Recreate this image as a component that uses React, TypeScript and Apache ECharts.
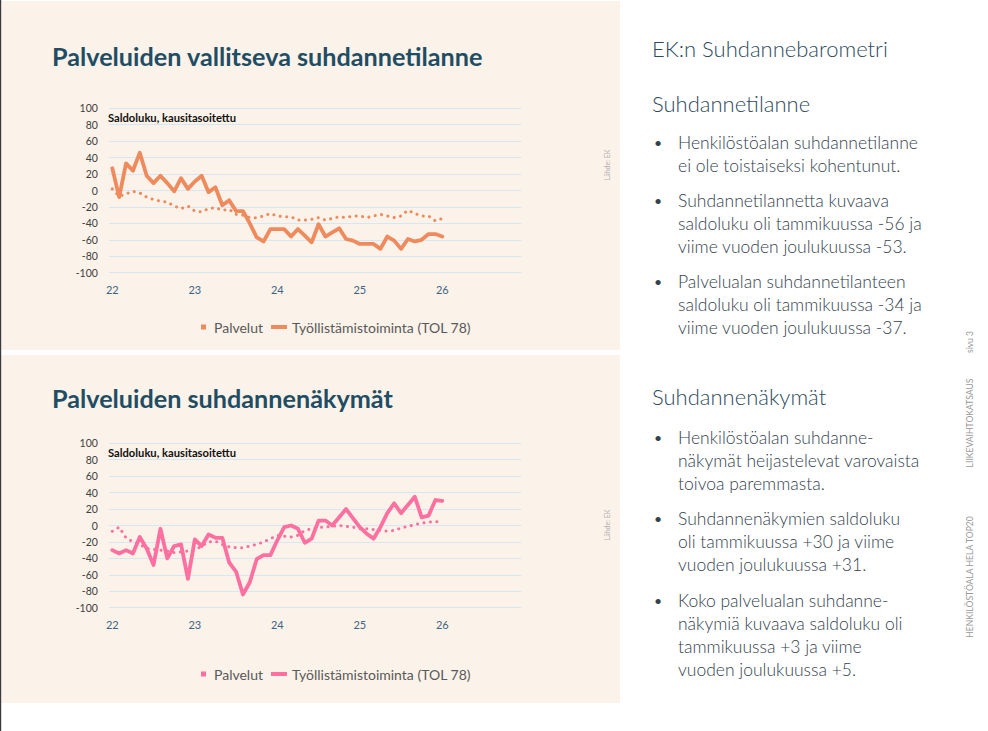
import React, { useEffect, useRef } from "react";
import * as echarts from "echarts";

// ---- data ----
const years = ["22", "23", "24", "25", "26"];
const monthsPerYear = 12;

// Palveluiden vallitseva suhdannetilanne (Jan 2022 .. Jan 2026)
const tilannePalvelut = [
  2, -7, -4, -1, -3, -8, -11, -13, -14, -19, -22, -19, -25, -26, -22, -21, -24, -23, -29, -30,
  -33, -33, -31, -28, -31, -32, -32, -36, -36, -35, -33, -36, -34, -32, -33, -31, -31, -33, -31, -29,
  -31, -33, -31, -24, -28, -31, -31, -37, -34,
];
const tilanneTyollistamis = [
  27, -8, 33, 24, 46, 18, 9, 18, 9, -1, 15, 2, 11, 18, -2, 4, -18, -12, -25, -25,
  -40, -57, -62, -47, -47, -47, -56, -47, -55, -63, -41, -56, -51, -46, -59, -61, -65, -65, -65, -71,
  -56, -61, -71, -59, -62, -60, -53, -53, -56,
];

// Palveluiden suhdannenäkymät
const nakymatPalvelut = [
  -7, -2, -15, -20, -23, -28, -29, -30, -31, -33, -32, -31, -30, -25, -20, -19, -23, -26, -27, -27,
  -25, -23, -20, -16, -12, -13, -14, -12, -6, -4, -2, -2, -1, 0, -1, -2, -4, -4, -5, -6,
  -7, -6, -3, -1, 1, 3, 4, 5, 3,
];
const nakymatTyollistamis = [
  -30, -34, -30, -34, -14, -28, -48, -4, -40, -25, -23, -65, -17, -25, -11, -15, -15, -45, -56, -84,
  -69, -41, -36, -36, -18, -2, 0, -4, -21, -16, 6, 6, 0, 10, 20, 9, -2, -10, -16, -2,
  15, 27, 15, 25, 35, 10, 12, 31, 30,
];

const seriesNames = ["Palvelut", "Työllistämistoiminta (TOL 78)"];
const yTicks = { min: -100, max: 100, step: 20 };

// 60 monthly categories, 2022..2026
const months: string[] = [];
years.forEach((y) => {
  for (let m = 1; m <= monthsPerYear; m++) months.push(`${y}-${m}`);
});

const ORANGE = "#EF8A5D";
const PINK = "#FF6F9F";
const BEIGE = "#FBF2E9";
const FONT = "Lato, 'Open Sans', sans-serif";

function text(
  t: string,
  x: number,
  y: number,
  o: { size: number; color: string; weight?: any; align?: string; va?: string; rotation?: number; lh?: number }
) {
  return {
    type: "text",
    x,
    y,
    z: 10,
    rotation: o.rotation || 0,
    silent: true,
    style: {
      text: t,
      fill: o.color,
      fontSize: o.size,
      fontFamily: FONT,
      fontWeight: o.weight || "normal",
      align: o.align || "left",
      textAlign: o.align || "left",
      verticalAlign: o.va || "middle",
      textVerticalAlign: o.va || "middle",
      lineHeight: o.lh,
    },
  };
}

const HEAD = "#2E4B5C";
const BODY = "#33424D";

const paragraphs: { y: number; lines: string[] }[] = [
  { y: 142, lines: ["Henkilöstöalan suhdannetilanne", "ei ole toistaiseksi kohentunut."] },
  { y: 200, lines: ["Suhdannetilannetta kuvaava", "saldoluku oli tammikuussa -56 ja", "viime vuoden joulukuussa -53."] },
  { y: 281, lines: ["Palvelualan suhdannetilanteen", "saldoluku oli tammikuussa -34 ja", "viime vuoden joulukuussa -37."] },
  { y: 437, lines: ["Henkilöstöalan suhdanne-", "näkymät heijastelevat varovaista", "toivoa paremmasta."] },
  { y: 518, lines: ["Suhdannenäkymien saldoluku", "oli tammikuussa +30 ja viime", "vuoden joulukuussa +31."] },
  { y: 600, lines: ["Koko palvelualan suhdanne-", "näkymiä kuvaava saldoluku oli", "tammikuussa +3 ja viime", "vuoden joulukuussa +5."] },
];

function buildGraphic() {
  const g: any[] = [
    { type: "rect", z: -10, silent: true, shape: { x: 0, y: 0, width: 988, height: 731 }, style: { fill: "#ffffff" } },
    { type: "rect", z: -9, silent: true, shape: { x: 1.5, y: 1, width: 618.5, height: 349 }, style: { fill: BEIGE } },
    { type: "rect", z: -9, silent: true, shape: { x: 1.5, y: 355, width: 618.5, height: 348 }, style: { fill: BEIGE } },
    { type: "rect", z: -8, silent: true, shape: { x: 0, y: 0, width: 1.2, height: 731 }, style: { fill: "#3a3a3a" } },
    text("Palveluiden vallitseva suhdannetilanne", 52, 56, { size: 25.2, color: "#1F4D63", weight: "bold" }),
    text("Palveluiden suhdannenäkymät", 52, 398, { size: 25.2, color: "#1F4D63", weight: "bold" }),
    text("Saldoluku, kausitasoitettu", 108, 117, { size: 11.2, color: "#111111", weight: "bold" }),
    text("Saldoluku, kausitasoitettu", 108, 452, { size: 11.2, color: "#111111", weight: "bold" }),
    text("Lähde: EK", 607, 165, { size: 7, color: "#B0B0B0", align: "center", rotation: Math.PI / 2 }),
    text("Lähde: EK", 607, 525, { size: 7, color: "#B0B0B0", align: "center", rotation: Math.PI / 2 }),
    text("EK:n Suhdannebarometri", 652, 48, { size: 22, color: HEAD, weight: 300 }),
    text("Suhdannetilanne", 652, 103, { size: 22, color: HEAD, weight: 300 }),
    text("Suhdannenäkymät", 652, 396, { size: 22, color: HEAD, weight: 300 }),
    text("LIIKEVAIHTOKATSAUS", 970, 423, { size: 8.6, color: "#9A9A9A", align: "center", rotation: Math.PI / 2 }),
    text("sivu 3", 970, 342, { size: 8.6, color: "#9A9A9A", align: "center", rotation: Math.PI / 2 }),
    text("HENKILÖSTÖALA HELA TOP20", 970, 577, { size: 8.6, color: "#9A9A9A", align: "center", rotation: Math.PI / 2 }),
  ];
  paragraphs.forEach((p) => {
    g.push(text("•", 654, p.y, { size: 14, color: BODY }));
    g.push(text(p.lines.join("\n"), 678, p.y - 11.5, { size: 17.5, color: BODY, weight: 300, va: "top", lh: 23 }));
  });
  return g;
}

function gridAxes(idx: number) {
  const x = {
    type: "category",
    gridIndex: idx,
    data: months,
    boundaryGap: true,
    axisLine: { show: false },
    axisTick: { show: false },
    splitLine: { show: false },
    axisLabel: {
      interval: monthsPerYear - 1,
      formatter: (v: string) => v.split("-")[0],
      color: "#3E6483",
      fontSize: 11,
      fontFamily: FONT,
      margin: 11,
    },
  };
  const y = {
    type: "value",
    gridIndex: idx,
    min: yTicks.min,
    max: yTicks.max,
    interval: yTicks.step,
    axisLine: { show: false },
    axisTick: { show: false },
    axisLabel: { color: "#404040", fontSize: 10.5, fontFamily: FONT, margin: 11 },
    splitLine: { lineStyle: { color: "#D6E6F2", width: 1 } },
  };
  return { x, y };
}

function lineSeries(name: string, idx: number, data: number[], color: string, dotted: boolean) {
  return {
    type: "line",
    name,
    xAxisIndex: idx,
    yAxisIndex: idx,
    data,
    symbol: "none",
    smooth: false,
    itemStyle: { color },
    lineStyle: dotted
      ? { color, width: 3, type: [0.1, 6.4], cap: "round" }
      : { color, width: 3.8, cap: "round", join: "round" },
    z: dotted ? 3 : 4,
  };
}

function legends(top: number, color: string) {
  const base = {
    top,
    padding: 0,
    selectedMode: false,
    textStyle: { color: "#595959", fontSize: 14, fontFamily: FONT },
  };
  return [
    {
      ...base,
      left: 201,
      itemWidth: 11,
      itemHeight: 5,
      data: [{ name: seriesNames[0], icon: "path://M0,0H10V10H0Z", itemStyle: { color, borderWidth: 0 } }],
    },
    {
      ...base,
      left: 271,
      itemWidth: 16,
      itemHeight: 4,
      data: [{ name: seriesNames[1], icon: "rect", itemStyle: { color, borderWidth: 0 } }],
    },
  ];
}

export default function App() {
  const ref = useRef<HTMLDivElement>(null);
  useEffect(() => {
    document.body.style.margin = "0";
    const chart = echarts.init(ref.current!, null, { renderer: "svg" });
    const a0 = gridAxes(0);
    const a1 = gridAxes(1);
    chart.setOption({
      animation: false,
      textStyle: { fontFamily: FONT },
      grid: [
        { left: 108.86, top: 108.3, width: 412.5, height: 164.4 },
        { left: 108.86, top: 443.3, width: 412.5, height: 164.4 },
      ],
      xAxis: [a0.x, a1.x],
      yAxis: [a0.y, a1.y],
      legend: [...legends(320, ORANGE), ...legends(667, PINK)],
      series: [
        lineSeries(seriesNames[0], 0, tilannePalvelut, ORANGE, true),
        lineSeries(seriesNames[1], 0, tilanneTyollistamis, ORANGE, false),
        lineSeries(seriesNames[0], 1, nakymatPalvelut, PINK, true),
        lineSeries(seriesNames[1], 1, nakymatTyollistamis, PINK, false),
      ],
      graphic: { elements: buildGraphic() },
    });
    return () => chart.dispose();
  }, []);
  return <div ref={ref} style={{ position: "absolute", left: 0, top: 0, width: 988, height: 731 }} />;
}
